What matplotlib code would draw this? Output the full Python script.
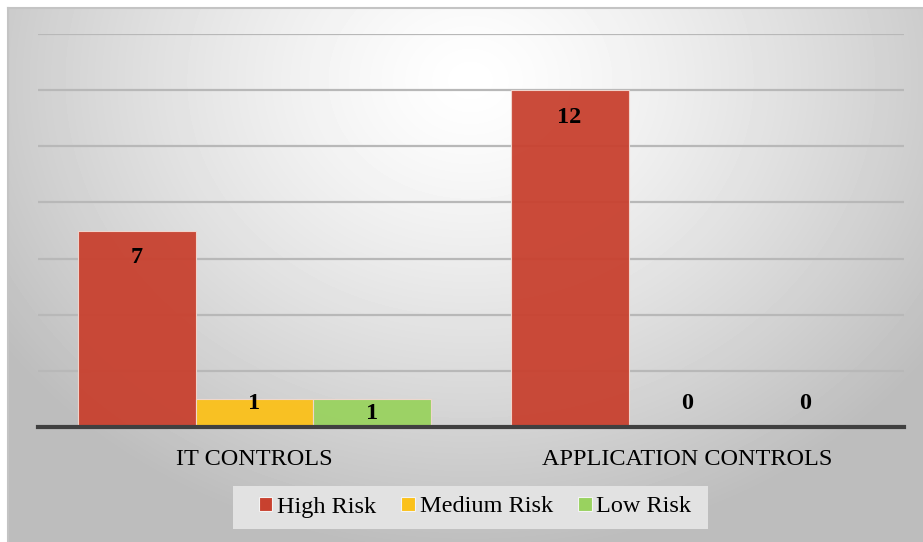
"""
Risk counts by control type - grouped bar chart, 923x542 px
"""
import matplotlib
matplotlib.use('Agg')
import matplotlib.pyplot as plt
import matplotlib.patches as mpatches
import numpy as np

# ── data ──────────────────────────────────────────────────────────────────────
categories = ['IT CONTROLS', 'APPLICATION CONTROLS']
series = ['High Risk', 'Medium Risk', 'Low Risk']
high_risk = [7, 12]
medium_risk = [1, 0]
low_risk = [1, 0]

# ── style ─────────────────────────────────────────────────────────────────────
COLORS = ['#C8412F', '#FBC11A', '#99D25F']
GRID = '#B8B8B8'
AXIS = '#404040'
FONT = 'Liberation Serif'
FS = 17.5
W, H = 923, 542

fig = plt.figure(figsize=(W / 100, H / 100), dpi=100)
fig.patch.set_facecolor('white')

# radial gradient background
bg = fig.add_axes([0, 0, 1, 1], zorder=0)
yy, xx = np.mgrid[0:H, 0:W]
r = np.sqrt(((xx - 470) / 600.0) ** 2 + ((yy - 80) / 500.0) ** 2)
shade = np.clip(1.0 - 0.28 * r ** 1.3, 0.74, 1.0)
shade[:8, :] = 1.0
shade[:, :8] = 1.0
bg.imshow(shade, cmap='gray', vmin=0, vmax=1, extent=(0, W, H, 0),
          interpolation='bilinear', aspect='auto')
bg.plot([8, W], [8, 8], color='#C4C4C4', lw=1.5)
bg.plot([8, 8], [8, H], color='#C4C4C4', lw=1.5)
# legend backdrop
bg.add_patch(mpatches.Rectangle((233, 486), 475, 43, facecolor='#E2E2E2',
                                edgecolor='none', zorder=3))
bg.set_xlim(0, W)
bg.set_ylim(H, 0)
bg.axis('off')

# plot area
left, right, top, bottom = 38, 904, 34, 427
ax = fig.add_axes([left / W, 1 - bottom / H, (right - left) / W, (bottom - top) / H],
                  zorder=1)
ax.patch.set_alpha(0)

x = np.arange(len(categories))
bw = 0.2725
values = [high_risk, medium_risk, low_risk]
offsets_pt = {  # label offsets (points) from bar top
    (0, 0): -19.5, (0, 1): -3.5, (0, 2): -10.5,
    (1, 0): -19.5, (1, 1): 17, (1, 2): 17,
}
for i, (name, vals, col) in enumerate(zip(series, values, COLORS)):
    pos = x + (i - 1) * bw
    ax.bar(pos, vals, width=bw, color=col, alpha=0.95, edgecolor='#F2D8D0',
           linewidth=0.8, zorder=3, label=name)
    for j, (p, v) in enumerate(zip(pos, vals)):
        ax.annotate(str(v), (p, v), xytext=(0, offsets_pt[(j, i)]),
                    textcoords='offset points', ha='center', va='center',
                    fontsize=FS, fontweight='bold', family=FONT, color='black',
                    zorder=5)

ax.set_xlim(-0.5, 1.5)
ax.set_ylim(0, 14)
ax.set_yticks(np.arange(0, 15, 2))
ax.yaxis.grid(True, color=GRID, linewidth=1.6, zorder=0)
ax.tick_params(axis='y', left=False, labelleft=False)
ax.set_xticks(x)
ax.set_xticklabels(categories, fontsize=FS, family=FONT, color='black')
ax.tick_params(axis='x', length=0, pad=16)
for s in ['top', 'right', 'left']:
    ax.spines[s].set_visible(False)
ax.spines['bottom'].set_color(AXIS)
ax.spines['bottom'].set_linewidth(3)
ax.spines['bottom'].set_zorder(4)

# legend
handles = [mpatches.Patch(facecolor=c, edgecolor='#F4F4F4', linewidth=0.8, label=s)
           for s, c in zip(series, COLORS)]
leg = fig.legend(handles=handles, loc='center', bbox_to_anchor=(475 / W, 1 - 507 / H),
                 ncol=3, frameon=False,
                 prop={'family': FONT, 'size': FS}, handlelength=0.55,
                 handleheight=0.55, handletextpad=0.2, columnspacing=1.05,
                 borderpad=0.0, borderaxespad=0)
leg.set_zorder(6)

fig.savefig('out.png', dpi=100, facecolor='white')
plt.close()
print("saved out.png")
